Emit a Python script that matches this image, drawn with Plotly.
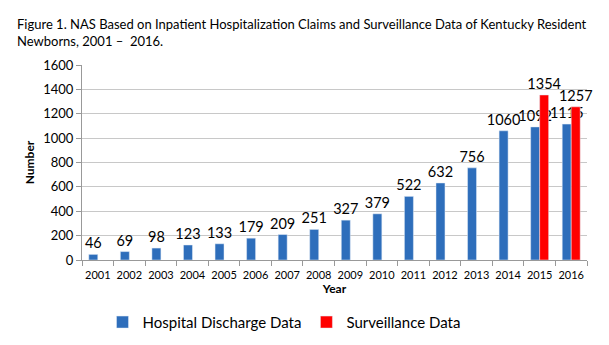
import plotly.graph_objects as go

years = [str(y) for y in range(2001, 2017)]
hospital = [46, 69, 98, 123, 133, 179, 209, 251, 327, 379, 522, 632, 756, 1060, 1092, 1115]
surveillance = [None]*14 + [1354, 1257]
y_ticks = list(range(0, 1601, 200))

FONT = "Lato, Carlito, 'Open Sans', sans-serif"

fig = go.Figure()
fig.add_trace(go.Bar(
    x=years, y=hospital, name="Hospital Discharge Data",
    marker_color="#2E6EBB", text=[str(v) for v in hospital],
    textposition="outside", constraintext="none", cliponaxis=False,
    textfont=dict(size=14.5, color="#000000", family=FONT),
))
fig.add_trace(go.Bar(
    x=years, y=surveillance, name="Surveillance Data",
    marker_color="#FF0000", text=[("" if v is None else str(v)) for v in surveillance],
    textposition="outside", constraintext="none", cliponaxis=False,
    textfont=dict(size=14.5, color="#000000", family=FONT),
))

fig.update_layout(
    width=609, height=345,
    margin=dict(l=82, r=22, t=65, b=85, autoexpand=False),
    paper_bgcolor="white", plot_bgcolor="white",
    barmode="group", bargap=0.43, bargroupgap=0,
    font=dict(family=FONT, color="#000000"),
    showlegend=True,
    legend=dict(orientation="h", x=0.40, xanchor="center", y=-0.235, yanchor="top",
                font=dict(size=15, family=FONT), itemwidth=30, traceorder="normal"),
    xaxis=dict(type="category", tickson="boundaries", ticks="outside", ticklen=5,
               tickcolor="#999999", showline=True, linecolor="#999999",
               tickangle=0, automargin=False, ticklabelstandoff=5,
               tickfont=dict(size=11, family=FONT), showgrid=False,
               title=dict(text="<b>Year</b>", font=dict(size=12, family=FONT), standoff=2)),
    yaxis=dict(range=[0, 1600], tickvals=y_ticks, ticks="outside", ticklen=5,
               tickcolor="#999999", showline=True, linecolor="#999999",
               gridcolor="#C8C8C8", gridwidth=1, zeroline=False, automargin=False,
               tickfont=dict(size=13, family=FONT),
               title=dict(text="<b>Number</b>", font=dict(size=12, family=FONT), standoff=6)),
    annotations=[dict(
        text="Figure 1. NAS Based on Inpatient Hospitalization Claims and Surveillance Data of Kentucky Resident<br>Newborns, 2001 –  2016.",
        xref="paper", yref="paper", x=-0.133, y=1.0, xanchor="left", yanchor="bottom",
        yshift=14, align="left", showarrow=False, font=dict(size=13, family=FONT),
    )],
)

fig.write_html("out.html")
